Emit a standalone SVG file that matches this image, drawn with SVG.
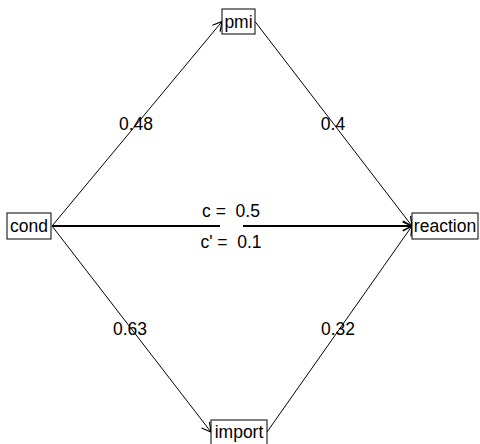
<svg xmlns="http://www.w3.org/2000/svg" width="480" height="444" viewBox="0 0 480 444">
  <style>
    .box { fill: #ffffff; stroke: #000000; stroke-width: 1; }
    .lbl { font-family: "Liberation Sans", Arial, sans-serif; font-size: 17.5px; fill: #000000; text-anchor: middle; white-space: pre; }
    .edge { stroke: #000000; stroke-width: 1; fill: none; }
    .thick { stroke-width: 2; }
  </style>
  <defs>
    <marker id="arrow" markerUnits="userSpaceOnUse" markerWidth="14" markerHeight="14" viewBox="-10 -7 12 14" refX="0" refY="0" orient="auto" overflow="visible">
      <path d="M -9 -5 L 0 0 L -9 5" fill="none" stroke="#000000" stroke-width="1.2"/>
    </marker>
  </defs>
  <rect width="480" height="444" fill="#ffffff"/>

  <!-- paths between variables -->
  <g id="connectors">
    <line class="edge" x1="52" y1="226" x2="222" y2="21.5" marker-end="url(#arrow)"/>
    <line class="edge" x1="52" y1="226" x2="211" y2="432" marker-end="url(#arrow)"/>
    <line class="edge" x1="255" y1="21.5" x2="412" y2="226" marker-end="url(#arrow)"/>
    <line class="edge" x1="267" y1="432" x2="412" y2="226" marker-end="url(#arrow)"/>
    <line class="edge thick" x1="52" y1="226" x2="220" y2="226"/>
    <line class="edge thick" x1="243" y1="226" x2="412" y2="226" marker-end="url(#arrow)"/>
    <text class="lbl" x="136" y="130">0.48</text>
    <text class="lbl" x="333" y="130">0.4</text>
    <text class="lbl" x="130" y="335">0.63</text>
    <text class="lbl" x="338" y="335">0.32</text>
    <text class="lbl" x="231" y="217">c =  0.5</text>
    <text class="lbl" x="231" y="248">c' =  0.1</text>
  </g>

  <g id="pmi">
    <rect class="box" x="222" y="9" width="33" height="25"/>
    <text class="lbl" x="238.5" y="28">pmi</text>
  </g>
  <g id="cond">
    <rect class="box" x="7" y="213" width="44" height="26"/>
    <text class="lbl" x="29" y="232">cond</text>
  </g>
  <g id="reaction">
    <rect class="box" x="412" y="213" width="66" height="26"/>
    <text class="lbl" x="445" y="232">reaction</text>
  </g>
  <g id="import">
    <rect class="box" x="211" y="420" width="56" height="26"/>
    <text class="lbl" x="239" y="438">import</text>
  </g>
</svg>
